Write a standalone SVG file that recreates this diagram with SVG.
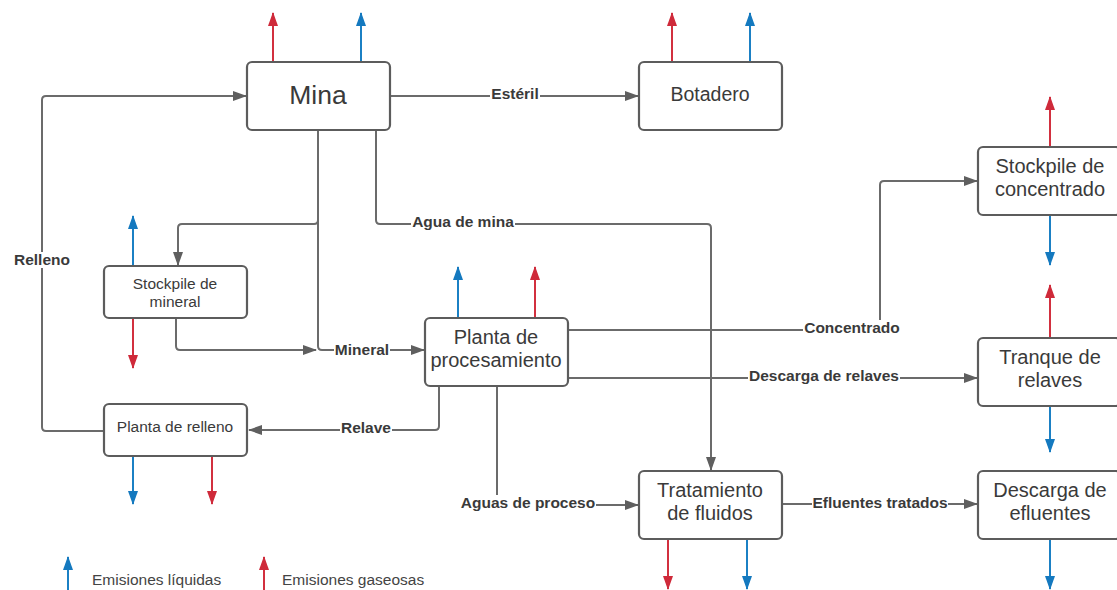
<svg xmlns="http://www.w3.org/2000/svg" width="1117" height="590" viewBox="0 0 1117 590">
  <style>
    .box { fill: #ffffff; stroke: #5c5c5c; stroke-width: 2.2; }
    .node-text { font-family: "Liberation Sans", Arial, sans-serif; fill: #3a3a3a; text-anchor: middle; }
    .conn { fill: none; stroke: #6b6b6b; stroke-width: 2; }
    .lbl { font-family: "Liberation Sans", Arial, sans-serif; font-weight: bold; font-size: 15.5px; fill: #3a3a3a; text-anchor: middle; }
    .lbl-bg { fill: #ffffff; }
    .red { fill: none; stroke: #d2303f; stroke-width: 2; }
    .blue { fill: none; stroke: #1b80c4; stroke-width: 2; }
    .legend { font-family: "Liberation Sans", Arial, sans-serif; font-size: 15.5px; fill: #444444; }
  </style>
  <defs>
    <marker id="ah-gray" markerUnits="userSpaceOnUse" markerWidth="14" markerHeight="12" refX="13" refY="6" orient="auto">
      <path d="M0,1 L14,6 L0,11 z" fill="#5f5f5f"/>
    </marker>
    <marker id="ah-red" markerUnits="userSpaceOnUse" markerWidth="14" markerHeight="12" refX="13" refY="6" orient="auto">
      <path d="M0,1 L14,6 L0,11 z" fill="#cf2a3a"/>
    </marker>
    <marker id="ah-blue" markerUnits="userSpaceOnUse" markerWidth="14" markerHeight="12" refX="13" refY="6" orient="auto">
      <path d="M0,1 L14,6 L0,11 z" fill="#1479bf"/>
    </marker>
  </defs>

  <rect width="1117" height="590" fill="#ffffff"/>

  <!-- connectors between process units -->
  <g id="connectors">
    <path class="conn" d="M104,431 H46 Q42,431 42,427 V100 Q42,96 46,96 H246" marker-end="url(#ah-gray)"/>
    <path class="conn" d="M390,96 H638" marker-end="url(#ah-gray)"/>
    <path class="conn" d="M318,130 V220 Q318,224 314,224 H182 Q178,224 178,228 V265" marker-end="url(#ah-gray)"/>
    <path class="conn" d="M318,130 V346 Q318,350 322,350 H424" marker-end="url(#ah-gray)"/>
    <path class="conn" d="M176,318 V346 Q176,350 180,350 H316" marker-end="url(#ah-gray)"/>
    <path class="conn" d="M376,130 V220 Q376,224 380,224 H707 Q711,224 711,228 V470" marker-end="url(#ah-gray)"/>
    <path class="conn" d="M568,330 H876 Q880,330 880,326 V185 Q880,181 884,181 H977" marker-end="url(#ah-gray)"/>
    <path class="conn" d="M568,378 H977" marker-end="url(#ah-gray)"/>
    <path class="conn" d="M439,386 V426 Q439,430 435,430 H249" marker-end="url(#ah-gray)"/>
    <path class="conn" d="M497,386 V501 Q497,505 501,505 H638" marker-end="url(#ah-gray)"/>
    <path class="conn" d="M782,504 H977" marker-end="url(#ah-gray)"/>

    <!-- connector labels -->
    <rect class="lbl-bg" x="490" y="86" width="50" height="16"/>
    <text class="lbl" x="515" y="99">Estéril</text>
    <rect class="lbl-bg" x="411" y="214" width="104" height="16"/>
    <text class="lbl" x="463" y="227">Agua de mina</text>
    <rect class="lbl-bg" x="13" y="252" width="58" height="16"/>
    <text class="lbl" x="42" y="265">Relleno</text>
    <rect class="lbl-bg" x="334" y="342" width="56" height="16"/>
    <text class="lbl" x="362" y="355">Mineral</text>
    <rect class="lbl-bg" x="340" y="420" width="52" height="16"/>
    <text class="lbl" x="366" y="433">Relave</text>
    <rect class="lbl-bg" x="803" y="320" width="98" height="16"/>
    <text class="lbl" x="852" y="333">Concentrado</text>
    <rect class="lbl-bg" x="748" y="368" width="152" height="16"/>
    <text class="lbl" x="824" y="381">Descarga de relaves</text>
    <rect class="lbl-bg" x="460" y="495" width="136" height="16"/>
    <text class="lbl" x="528" y="508">Aguas de proceso</text>
    <rect class="lbl-bg" x="812" y="495" width="136" height="16"/>
    <text class="lbl" x="880" y="508">Efluentes tratados</text>
  </g>

  <!-- emission arrows -->
  <g id="emissions">
    <path class="red" d="M273,62 V13" marker-end="url(#ah-red)"/>
    <path class="blue" d="M361,62 V13" marker-end="url(#ah-blue)"/>
    <path class="red" d="M672,62 V13" marker-end="url(#ah-red)"/>
    <path class="blue" d="M750,62 V13" marker-end="url(#ah-blue)"/>
    <path class="red" d="M1050,147 V97" marker-end="url(#ah-red)"/>
    <path class="blue" d="M1050,215 V265" marker-end="url(#ah-blue)"/>
    <path class="red" d="M1050,338 V285" marker-end="url(#ah-red)"/>
    <path class="blue" d="M1050,406 V452" marker-end="url(#ah-blue)"/>
    <path class="blue" d="M1050,539 V589" marker-end="url(#ah-blue)"/>
    <path class="red" d="M668,539 V589" marker-end="url(#ah-red)"/>
    <path class="blue" d="M747,539 V589" marker-end="url(#ah-blue)"/>
    <path class="blue" d="M458,318 V267" marker-end="url(#ah-blue)"/>
    <path class="red" d="M535,318 V267" marker-end="url(#ah-red)"/>
    <path class="blue" d="M133,266 V216" marker-end="url(#ah-blue)"/>
    <path class="red" d="M133,318 V368" marker-end="url(#ah-red)"/>
    <path class="blue" d="M133,456 V504" marker-end="url(#ah-blue)"/>
    <path class="red" d="M212,456 V504" marker-end="url(#ah-red)"/>
  </g>

  <!-- process units -->
  <g id="mina">
    <rect class="box" x="247" y="62" width="143" height="68" rx="5"/>
    <text class="node-text" x="318" y="104" font-size="26.5">Mina</text>
  </g>
  <g id="botadero">
    <rect class="box" x="639" y="62" width="143" height="68" rx="5"/>
    <text class="node-text" x="710" y="101" font-size="19.5">Botadero</text>
  </g>
  <g id="stockpile-concentrado">
    <rect class="box" x="978" y="147" width="143" height="68" rx="5"/>
    <text class="node-text" x="1050" y="173" font-size="20">Stockpile de</text>
    <text class="node-text" x="1050" y="196" font-size="20">concentrado</text>
  </g>
  <g id="tranque-relaves">
    <rect class="box" x="978" y="338" width="143" height="68" rx="5"/>
    <text class="node-text" x="1050" y="364" font-size="20">Tranque de</text>
    <text class="node-text" x="1050" y="387" font-size="20">relaves</text>
  </g>
  <g id="descarga-efluentes">
    <rect class="box" x="978" y="471" width="143" height="68" rx="5"/>
    <text class="node-text" x="1050" y="497" font-size="20">Descarga de</text>
    <text class="node-text" x="1050" y="520" font-size="20">efluentes</text>
  </g>
  <g id="tratamiento-fluidos">
    <rect class="box" x="639" y="471" width="143" height="68" rx="5"/>
    <text class="node-text" x="710" y="497" font-size="20">Tratamiento</text>
    <text class="node-text" x="710" y="520" font-size="20">de fluidos</text>
  </g>
  <g id="planta-procesamiento">
    <rect class="box" x="425" y="318" width="143" height="68" rx="5"/>
    <text class="node-text" x="496" y="344" font-size="20">Planta de</text>
    <text class="node-text" x="496" y="367" font-size="20">procesamiento</text>
  </g>
  <g id="stockpile-mineral">
    <rect class="box" x="104" y="266" width="143" height="52" rx="5"/>
    <text class="node-text" x="175" y="289" font-size="15.5">Stockpile de</text>
    <text class="node-text" x="175" y="307" font-size="15.5">mineral</text>
  </g>
  <g id="planta-relleno">
    <rect class="box" x="104" y="404" width="143" height="52" rx="5"/>
    <text class="node-text" x="175" y="432" font-size="15.5">Planta de relleno</text>
  </g>

  <!-- legend -->
  <g id="legend">
    <path class="blue" d="M68,590 V557" marker-end="url(#ah-blue)"/>
    <text class="legend" x="92" y="585">Emisiones líquidas</text>
    <path class="red" d="M264,590 V557" marker-end="url(#ah-red)"/>
    <text class="legend" x="282" y="585">Emisiones gaseosas</text>
  </g>
</svg>
